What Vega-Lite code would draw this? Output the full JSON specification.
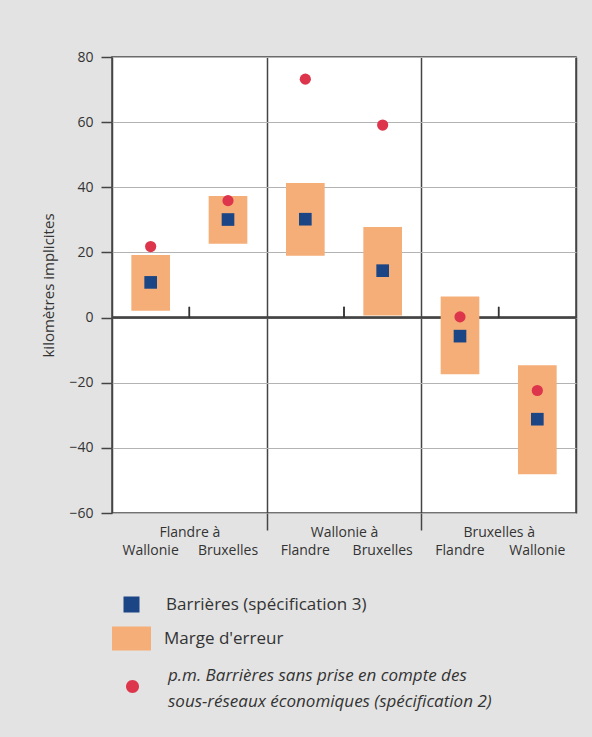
{
  "$schema": "https://vega.github.io/schema/vega-lite/v6.json",
  "width": 464,
  "height": 456,
  "autosize": {"type": "none"},
  "padding": {"left": 112, "top": 57, "right": 16, "bottom": 224},
  "background": "#e3e3e3",
  "data": {
    "values": [
      {"item": "FW", "group": "Flandre à", "lo": 2.1, "hi": 19.2, "spec3": 10.8, "spec2": 21.8},
      {"item": "FB", "group": "Flandre à", "lo": 22.7, "hi": 37.3, "spec3": 30.1, "spec2": 35.9},
      {"item": "WF", "group": "Wallonie à", "lo": 19.0, "hi": 41.3, "spec3": 30.2, "spec2": 73.2},
      {"item": "WB", "group": "Wallonie à", "lo": 0.6, "hi": 27.8, "spec3": 14.4, "spec2": 59.1},
      {"item": "BF", "group": "Bruxelles à", "lo": -17.4, "hi": 6.5, "spec3": -5.7, "spec2": 0.2},
      {"item": "BW", "group": "Bruxelles à", "lo": -48.1, "hi": -14.6, "spec3": -31.2, "spec2": -22.4}
    ]
  },
  "layer": [
    {
      "layer": [
        {
          "mark": {"type": "rule", "color": "#444", "strokeWidth": 1.5},
          "encoding": {
            "y": {
              "datum": 0, "type": "quantitative", "title": "kilomètres implicites",
              "scale": {"domain": [-60, 80], "nice": false, "zero": false},
              "axis": {"values": [-60, -40, -20, 0, 20, 40, 60, 80]}
            }
          }
        },
        {
          "mark": {"type": "rule", "color": "#333", "strokeWidth": 1.5},
          "encoding": {
            "x": {
              "field": "group", "type": "nominal",
              "scale": {"domain": ["Flandre à", "Wallonie à", "Bruxelles à"], "paddingInner": 0, "paddingOuter": 0},
              "axis": {
                "orient": "bottom", "title": null, "domain": false,
                "tickBand": "extent", "grid": true, "gridColor": "#444", "gridWidth": 1.5,
                "ticks": true, "tickSize": 17, "tickColor": "#444", "tickWidth": 1.5,
                "tickOpacity": {"condition": {"test": "datum.value === 'Bruxelles à' || datum.extra", "value": 0}, "value": 1},
                "labelPadding": -5, "labelAngle": 0
              }
            },
            "y": {"datum": 0, "type": "quantitative", "title": "kilomètres implicites", "axis": {"values": [-60, -40, -20, 0, 20, 40, 60, 80]}},
            "y2": {"datum": 3.3}
          }
        }
      ]
    },
    {
      "layer": [
        {
          "mark": {"type": "bar", "width": {"band": 0.5}, "color": "#f5ae78"},
          "encoding": {
            "x": {
              "field": "item", "type": "nominal",
              "scale": {"domain": ["FW", "FB", "WF", "WB", "BF", "BW"], "paddingInner": 0, "paddingOuter": 0},
              "axis": {
                "orient": "bottom", "title": null, "domain": false, "ticks": false, "grid": false,
                "labelPadding": 30, "labelAngle": 0,
                "labelExpr": "{'FW': 'Wallonie', 'FB': 'Bruxelles', 'WF': 'Flandre', 'WB': 'Bruxelles', 'BF': 'Flandre', 'BW': 'Wallonie'}[datum.value]"
              }
            },
            "y": {"field": "lo", "type": "quantitative", "title": "kilomètres implicites", "axis": {"values": [-60, -40, -20, 0, 20, 40, 60, 80]}},
            "y2": {"field": "hi"},
            "color": {
              "datum": "Marge d'erreur",
              "scale": {"range": ["#f5ae78"]},
              "legend": {
                "title": null, "orient": "none", "legendX": 0, "legendY": 562,
                "symbolType": "M-1,-0.615H1V0.615H-1Z", "symbolSize": 1521, "symbolStrokeWidth": 0,
                "labelOffset": 13, "labelLimit": 0
              }
            }
          }
        },
        {
          "mark": {"type": "square", "size": 160, "opacity": 1},
          "encoding": {
            "x": {"field": "item", "type": "nominal"},
            "y": {"field": "spec3", "type": "quantitative", "title": "kilomètres implicites", "axis": {"values": [-60, -40, -20, 0, 20, 40, 60, 80]}},
            "color": {
              "datum": "Barrières (spécification 3)",
              "scale": {"range": ["#1b4585"]},
              "legend": {
                "title": null, "orient": "none", "legendX": 11, "legendY": 539,
                "symbolType": "square", "symbolSize": 256, "symbolStrokeWidth": 0,
                "labelOffset": 26, "labelLimit": 0
              }
            }
          }
        },
        {
          "mark": {"type": "circle", "size": 125, "opacity": 1},
          "encoding": {
            "x": {"field": "item", "type": "nominal"},
            "y": {"field": "spec2", "type": "quantitative", "title": "kilomètres implicites", "axis": {"values": [-60, -40, -20, 0, 20, 40, 60, 80]}},
            "color": {
              "datum": "p.m. Barrières sans prise en compte des",
              "scale": {
                "domain": ["p.m. Barrières sans prise en compte des", "sous-réseaux économiques (spécification 2)"],
                "range": ["#dc354c", "transparent"]
              },
              "legend": {
                "title": null, "orient": "none", "legendX": 12, "legendY": 610,
                "symbolType": "M0,0.69A1,1 0 1,1 0,2.69A1,1 0 1,1 0,0.69Z", "symbolSize": 169, "symbolStrokeWidth": 0,
                "labelOffset": 27, "labelLimit": 0, "labelFontStyle": "italic", "rowPadding": -4
              }
            }
          }
        }
      ],
      "resolve": {"scale": {"color": "independent"}}
    }
  ],
  "resolve": {
    "scale": {"x": "independent", "color": "independent"},
    "axis": {"x": "independent"}
  },
  "config": {
    "font": "Open Sans",
    "view": {"fill": "white", "stroke": "#444", "strokeWidth": 1.5},
    "axis": {
      "labelFont": "Open Sans", "labelFontSize": 14, "labelColor": "#333",
      "titleFont": "Open Sans", "titleFontWeight": "normal", "titleColor": "#333"
    },
    "axisY": {
      "domain": false, "grid": true, "gridColor": "#b3b3b3", "gridWidth": 1.2,
      "tickSize": 11, "tickColor": "#444", "tickWidth": 1.5, "labelPadding": 8,
      "titleFontSize": 15, "titlePadding": 12
    },
    "legend": {
      "labelFont": "Open Sans", "labelFontSize": 17, "labelColor": "#333", "padding": 0
    }
  }
}
